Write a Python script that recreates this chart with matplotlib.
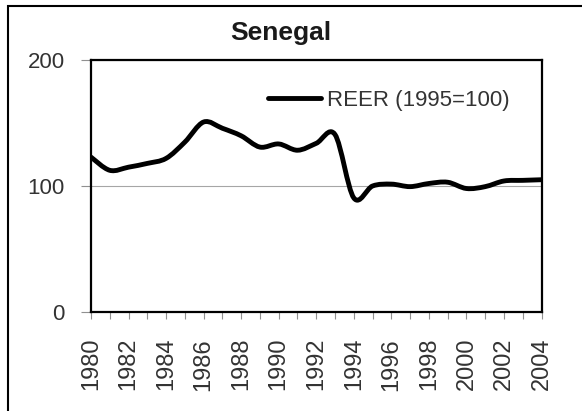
import matplotlib
matplotlib.use("Agg")
import matplotlib.pyplot as plt
from matplotlib.path import Path
from matplotlib.patches import PathPatch, Rectangle
from matplotlib.lines import Line2D

# data
years = list(range(1980, 2005))
reer = [123, 112.5, 115, 118, 122, 135, 151, 146, 140, 131, 133.5, 128.5,
        134, 141, 90.5, 100, 101.5, 99.5, 102, 103, 98, 99.5, 104, 104.5, 105]
year_labels = [str(y) if y % 2 == 0 else "" for y in years]
y_ticks = [0, 100, 200]
series_name = "REER (1995=100)"
title = "Senegal"

plt.rcParams['font.family'] = ['Liberation Sans', 'DejaVu Sans']
txt = '#333333'

W, H = 582, 411
fig = plt.figure(figsize=(W / 100, H / 100), dpi=100)
ax = fig.add_axes([91 / W, 1 - 311.5 / H, 450.5 / W, 251 / H])


def smooth_path(xs, ys):
    # excel style smoothed line: cubic bezier through every point
    n = len(xs)
    verts = [(xs[0], ys[0])]
    codes = [Path.MOVETO]
    for i in range(n - 1):
        p0 = max(i - 1, 0)
        p3 = min(i + 2, n - 1)
        c1 = (xs[i] + (xs[i + 1] - xs[p0]) / 6, ys[i] + (ys[i + 1] - ys[p0]) / 6)
        c2 = (xs[i + 1] - (xs[p3] - xs[i]) / 6, ys[i + 1] - (ys[p3] - ys[i]) / 6)
        verts += [c1, c2, (xs[i + 1], ys[i + 1])]
        codes += [Path.CURVE4] * 3
    return Path(verts, codes)


ax.add_patch(PathPatch(smooth_path(years, reer), fill=False, edgecolor='black',
                       lw=3.5, capstyle='round', joinstyle='round', zorder=3))

ax.set_xlim(years[0], years[-1])
ax.set_ylim(0, 200)
ax.set_yticks(y_ticks)
ax.set_xticks(years)
ax.set_xticklabels(year_labels, rotation=90)
ax.grid(True, axis='y', color='#a6a6a6', lw=0.8)
ax.set_axisbelow(True)

for s in ax.spines.values():
    s.set_linewidth(1.6)
    s.set_color('black')

ax.tick_params(axis='y', direction='out', length=7, width=0.8, color='#909090',
               labelsize=16, labelcolor=txt, pad=12)
ax.tick_params(axis='x', direction='out', length=5, width=0.8, color='#909090',
               labelsize=17, labelcolor=txt, pad=14)

handle = Line2D([], [], color='black', lw=3.5, solid_capstyle='round')
ax.legend([handle], [series_name], loc='center left',
          bbox_to_anchor=(268 / W, 1 - 100 / H), bbox_transform=fig.transFigure,
          frameon=False, borderpad=0, borderaxespad=0, handlelength=2.4,
          handletextpad=0.25, fontsize=16, labelcolor=txt)

fig.text(281 / W, 1 - 33 / H, title, ha='center', va='center',
         fontsize=19, fontweight='bold', color='#1a1a1a')

# outer chart border (cut off at right and bottom)
fig.add_artist(Rectangle((7.5 / W, -0.1), 1.2, 1 - 5.7 / H + 0.1, fill=False,
                         edgecolor='black', lw=1.5, transform=fig.transFigure))

fig.savefig('out.png', dpi=100)
